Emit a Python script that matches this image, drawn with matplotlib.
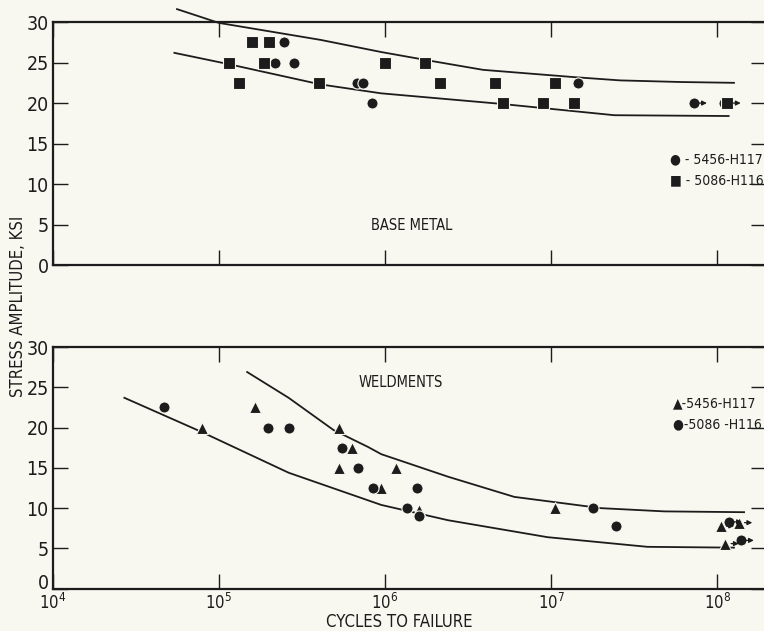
import matplotlib
matplotlib.use("Agg")
import matplotlib.pyplot as plt
import matplotlib.transforms as mtransforms
from matplotlib.ticker import NullLocator, FixedLocator

plt.rcParams['font.family'] = ['DejaVu Sans']
plt.rcParams['font.stretch'] = 'condensed'
plt.rcParams['mathtext.fontset'] = 'custom'
plt.rcParams['mathtext.rm'] = 'DejaVu Sans:stretch=condensed'

# ---- data ----
# base metal
base_5456_x = [2.19e5, 2.45e5, 2.82e5, 6.8e5, 7.4e5, 8.3e5, 1.45e7, 7.2e7, 1.1e8]
base_5456_y = [25, 27.5, 25, 22.5, 22.5, 20, 22.5, 20, 20]
base_5086_x = [1.15e5, 1.32e5, 1.58e5, 2.0e5, 1.86e5, 4.0e5, 1.0e6, 1.74e6, 2.14e6,
               4.6e6, 5.1e6, 1.05e7, 8.9e6, 1.38e7, 1.15e8]
base_5086_y = [25, 22.5, 27.5, 27.5, 25, 22.5, 25, 25, 22.5, 22.5, 20, 22.5, 20, 20, 20]
base_runout_x = [7.2e7, 1.15e8]
base_runout_y = [20, 20]

base_upper_x = [5.6e4, 1e5, 4.1e5, 9.5e5, 1.9e6, 3.9e6, 1.38e7, 2.6e7, 6.0e7, 1.26e8]
base_upper_y = [31.6, 29.9, 27.8, 26.3, 25.2, 24.1, 23.2, 22.8, 22.6, 22.5]
base_lower_x = [5.4e4, 1.15e5, 4.1e5, 9.5e5, 5.0e6, 2.4e7, 1.17e8]
base_lower_y = [26.2, 24.8, 22.3, 21.2, 19.9, 18.5, 18.4]

# weldments
weld_5456_x = [7.9e4, 1.66e5, 5.3e5, 6.3e5, 5.3e5, 9.5e5, 1.17e6, 1.6e6, 1.05e7,
               1.05e8, 1.35e8, 1.12e8]
weld_5456_y = [20, 22.5, 20, 17.5, 15, 12.5, 15, 9.75, 10, 7.8, 8.2, 5.6]
weld_5086_x = [4.7e4, 1.97e5, 2.64e5, 5.5e5, 6.9e5, 8.5e5, 1.55e6, 1.35e6, 1.6e6,
               1.78e7, 2.45e7, 1.17e8, 1.38e8]
weld_5086_y = [22.5, 20, 20, 17.5, 15, 12.5, 12.5, 10, 9.0, 10, 7.8, 8.3, 6.0]
weld_runout_x = [1.05e8, 1.17e8, 1.35e8, 1.12e8, 1.38e8]
weld_runout_y = [7.8, 8.3, 8.2, 5.6, 6.0]

weld_upper_x = [1.48e5, 2.63e5, 4.9e5, 7.9e5, 9.5e5, 2.4e6, 6.0e6, 2.0e7, 4.8e7, 1.45e8]
weld_upper_y = [26.9, 23.7, 19.7, 17.6, 16.7, 13.9, 11.4, 10.0, 9.6, 9.5]
weld_lower_x = [2.7e4, 7.8e4, 2.63e5, 9.5e5, 2.4e6, 9.5e6, 3.8e7, 1.26e8]
weld_lower_y = [23.7, 19.5, 14.4, 10.4, 8.5, 6.4, 5.2, 5.1]

yticks = [0, 5, 10, 15, 20, 25, 30]
xticks = [1e4, 1e5, 1e6, 1e7, 1e8]
xticklabels = ['$10^4$', '$10^5$', '$10^6$', '$10^7$', '$10^8$']

bg = '#f8f8f1'
ink = '#1c1c1c'

fig = plt.figure(figsize=(7.64, 6.31), dpi=100, facecolor=bg)
ax1 = fig.add_axes([0.069, 0.580, 0.934, 0.385])
ax2 = fig.add_axes([0.069, 0.067, 0.934, 0.383])


def style(ax, labels):
    ax.set_facecolor(bg)
    ax.set_xscale('log')
    ax.set_xlim(1e4, 10 ** 8.295)
    ax.set_ylim(0, 30)
    ax.xaxis.set_major_locator(FixedLocator(xticks))
    ax.xaxis.set_minor_locator(NullLocator())
    ax.set_yticks(yticks)
    ax.spines['right'].set_visible(False)
    for s in ['left', 'top', 'bottom']:
        ax.spines[s].set_color(ink)
        ax.spines[s].set_linewidth(1.6)
    ax.tick_params(axis='both', direction='in', color=ink, width=1.0,
                   labelsize=14, labelcolor=ink)
    ax.tick_params(axis='x', length=11, top=True)
    ax.tick_params(axis='y', length=11, right=True, pad=3)
    if labels:
        ax.set_xticklabels(xticklabels)
        ax.tick_params(axis='x', pad=3, labelsize=12)
    else:
        ax.set_xticklabels([])


def runouts(ax, xs, ys):
    for x, y in zip(xs, ys):
        ax.annotate('', xy=(x * 1.25, y), xytext=(x * 1.04, y),
                    arrowprops=dict(arrowstyle='-|>', color=ink, lw=0.9,
                                    mutation_scale=7))


style(ax1, False)
style(ax2, True)

# lift the "0" of the lower panel a little, as in the original
zero = ax2.get_yticklabels()[0]
zero.set_transform(zero.get_transform() +
                   mtransforms.ScaledTranslation(0, 5 / 72, fig.dpi_scale_trans))

ax1.plot(base_upper_x, base_upper_y, color=ink, lw=1.3, clip_on=False)
ax1.plot(base_lower_x, base_lower_y, color=ink, lw=1.3)
ax1.plot(base_5456_x, base_5456_y, 'o', color=ink, ms=8, mec=bg, mew=0.8)
ax1.plot(base_5086_x, base_5086_y, 's', color=ink, ms=8, mec=bg, mew=0.8)
runouts(ax1, base_runout_x, base_runout_y)
ax1.text(5.2e7, 13.0, '\u25CF - 5456-H117', fontsize=10, color=ink, va='center')
ax1.text(5.2e7, 10.5, '\u25A0 - 5086-H116', fontsize=10, color=ink, va='center')
ax1.text(1.44e6, 4.9, 'BASE METAL', fontsize=10.5, color=ink, ha='center', va='center')

ax2.plot(weld_upper_x, weld_upper_y, color=ink, lw=1.3)
ax2.plot(weld_lower_x, weld_lower_y, color=ink, lw=1.3)
ax2.plot(weld_5456_x, weld_5456_y, '^', color=ink, ms=9, mec=bg, mew=0.8)
ax2.plot(weld_5086_x, weld_5086_y, 'o', color=ink, ms=8, mec=bg, mew=0.8)
runouts(ax2, weld_runout_x, weld_runout_y)
ax2.text(5.4e7, 23.0, '\u25B2-5456-H117', fontsize=10, color=ink, va='center')
ax2.text(5.4e7, 20.4, '\u25CF-5086 -H116', fontsize=10, color=ink, va='center')
ax2.text(6.9e5, 25.6, 'WELDMENTS', fontsize=10.5, color=ink, va='center')

fig.text(0.024, 0.515, 'STRESS AMPLITUDE, KSI', rotation=90, fontsize=12,
         color=ink, ha='center', va='center')
fig.text(0.523, 0.014, 'CYCLES TO FAILURE', fontsize=12, color=ink,
         ha='center', va='center')

fig.savefig('out.png', dpi=100, facecolor=bg)
